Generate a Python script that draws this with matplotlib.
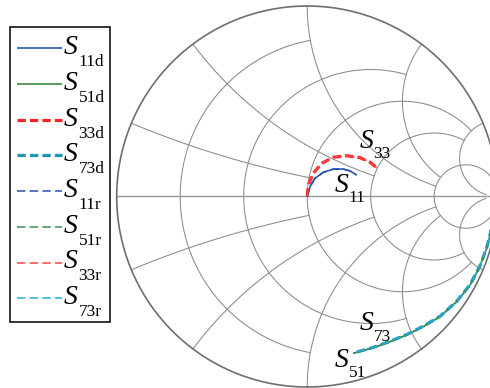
import numpy as np
import matplotlib
matplotlib.use("Agg")
import matplotlib.pyplot as plt
from matplotlib.patches import Rectangle
from matplotlib.transforms import offset_copy

s11d_re = [0.000, 0.015, 0.041, 0.085, 0.137, 0.190, 0.225, 0.260]
s11d_im = [0.000, 0.051, 0.096, 0.127, 0.144, 0.144, 0.134, 0.113]
s11r_re = [0.000, 0.015, 0.041, 0.085, 0.137, 0.190, 0.225, 0.260]
s11r_im = [0.000, 0.051, 0.096, 0.127, 0.144, 0.144, 0.134, 0.113]

s33d_re = [0.000, 0.006, 0.032, 0.076, 0.137, 0.207, 0.277, 0.330, 0.373]
s33d_im = [0.000, 0.060, 0.122, 0.174, 0.206, 0.214, 0.204, 0.180, 0.144]
s33r_re = [0.000, 0.006, 0.032, 0.076, 0.137, 0.207, 0.277, 0.330, 0.373]
s33r_im = [0.000, 0.060, 0.122, 0.174, 0.206, 0.214, 0.204, 0.180, 0.144]

s51d_re = [0.242, 0.347, 0.435, 0.522, 0.609, 0.697, 0.785, 0.855, 0.907, 0.942, 0.960, 0.975]
s51d_im = [-0.823, -0.794, -0.762, -0.727, -0.683, -0.631, -0.552, -0.465, -0.366, -0.272, -0.202, -0.120]
s51r_re = [0.242, 0.347, 0.435, 0.522, 0.609, 0.697, 0.785, 0.855, 0.907, 0.942, 0.960, 0.975]
s51r_im = [-0.823, -0.794, -0.762, -0.727, -0.683, -0.631, -0.552, -0.465, -0.366, -0.272, -0.202, -0.120]

s73d_re = [0.262, 0.347, 0.435, 0.522, 0.609, 0.697, 0.785, 0.855, 0.907, 0.942, 0.960, 0.975]
s73d_im = [-0.816, -0.792, -0.760, -0.725, -0.681, -0.629, -0.550, -0.463, -0.364, -0.270, -0.200, -0.118]
s73r_re = [0.262, 0.347, 0.435, 0.522, 0.609, 0.697, 0.785, 0.855, 0.907, 0.942, 0.960, 0.975]
s73r_im = [-0.816, -0.792, -0.760, -0.725, -0.681, -0.629, -0.550, -0.463, -0.364, -0.270, -0.200, -0.118]

series_subs = ["11d", "51d", "33d", "73d", "11r", "51r", "33r", "73r"]

# Smith chart grid values and the end points of each grid line
grid_vals = [0.2, 0.5, 1.0, 2.0, 5.0]
grid_ends = [1.0, 2.0, 5.0, 5.0, 30.0]

# annotation labels (main letter, subscript, position in reflection-coefficient plane)
ann_subs = ["33", "11", "73", "51"]
ann_pos = [(0.277, 0.255), (0.146, 0.024), (0.277, -0.701), (0.146, -0.895)]

# ---------------- styles
styles = {
    "11d": dict(color="#2b5aa8", lw=1.2, ls="-"),
    "51d": dict(color="#3d8b46", lw=1.2, ls="-"),
    "33d": dict(color="#ff2222", lw=2.3, ls=(0, (2.6, 1.3))),
    "73d": dict(color="#1e96b4", lw=2.3, ls=(0, (2.6, 1.3))),
    "11r": dict(color="#2850a8", lw=1.1, ls=(0, (5.5, 2.8))),
    "51r": dict(color="#3d8b50", lw=1.1, ls=(0, (5.5, 2.8))),
    "33r": dict(color="#f54848", lw=1.1, ls=(0, (5.5, 2.8))),
    "73r": dict(color="#2aa8d2", lw=1.1, ls=(0, (5.5, 2.8))),
}
series = {
    "11d": (s11d_re, s11d_im), "51d": (s51d_re, s51d_im),
    "33d": (s33d_re, s33d_im), "73d": (s73d_re, s73d_im),
    "11r": (s11r_re, s11r_im), "51r": (s51r_re, s51r_im),
    "33r": (s33r_re, s33r_im), "73r": (s73r_re, s73r_im),
}

W, H = 490, 388
fig = plt.figure(figsize=(W / 100, H / 100), dpi=100)
ax = fig.add_axes([0, 0, 1, 1])
cx, cy, R = 307.2, 196.5, 190.5
ax.set_xlim(-cx / R, (W - cx) / R)
ax.set_ylim(-(H - cy) / R, cy / R)
ax.set_aspect("equal")
ax.axis("off")

gcol = "#8a8a8a"
glw = 0.75

# resistance circles
for r, xe in zip(grid_vals, grid_ends):
    c, rho = r / (1 + r), 1 / (1 + r)
    g_end = (r + 1j * xe - 1) / (r + 1j * xe + 1)
    pe = np.angle(g_end - c)
    phi = np.linspace(pe, 2 * np.pi - pe, 400)
    ax.plot(c + rho * np.cos(phi), rho * np.sin(phi), color=gcol, lw=glw, zorder=1)

# reactance arcs
for xv, re_end in zip(grid_vals, grid_ends):
    u = np.linspace(0, re_end / (1 + re_end), 400)
    rr = u / (1 - u)
    for s in (1, -1):
        z = rr + 1j * s * xv
        g = (z - 1) / (z + 1)
        ax.plot(g.real, g.imag, color=gcol, lw=glw, zorder=1)

# real axis and unit circle
ax.plot([-1, 1], [0, 0], color="#999999", lw=1.0, zorder=1)
t = np.linspace(0, 2 * np.pi, 800)
ax.plot(np.cos(t), np.sin(t), color="#6e6e6e", lw=1.2, zorder=2)

# data curves
for i, k in enumerate(series_subs):
    st = styles[k]
    re, im = series[k]
    ax.plot(re, im, color=st["color"], lw=st["lw"], linestyle=st["ls"],
            zorder=3 + i, solid_capstyle="butt", dash_capstyle="butt")

# annotations
fs_main, fs_sub = 20, 12.5
main_font = dict(family="Liberation Serif", style="italic", size=fs_main)
sub_font = dict(family="Liberation Serif", size=fs_sub)
for sub, (gx, gy) in zip(ann_subs, ann_pos):
    ax.text(gx, gy, "S", ha="left", va="baseline", zorder=20, **main_font)
    tr = offset_copy(ax.transData, fig=fig, x=13.5, y=-10.5, units="dots")
    ax.text(gx, gy, sub, ha="left", va="baseline", transform=tr, zorder=20, **sub_font)

# legend (pixel coordinates overlay)
lax = fig.add_axes([0, 0, 1, 1], zorder=10)
lax.set_xlim(0, W)
lax.set_ylim(H, 0)
lax.axis("off")
lax.patch.set_alpha(0)
lax.add_patch(Rectangle((10, 27), 100, 295, facecolor="white", edgecolor="black", lw=1.1))
for i, k in enumerate(series_subs):
    st = styles[k]
    yl = 48.3 + 35.7 * i
    lax.plot([17, 62], [yl, yl], color=st["color"], lw=st["lw"], linestyle=st["ls"],
             solid_capstyle="butt", dash_capstyle="butt")
    lax.text(64, yl + 6, "S", ha="left", va="baseline", **main_font)
    lax.text(78.5, yl + 18, k, ha="left", va="baseline", **sub_font)

fig.savefig("out.png", dpi=100)
